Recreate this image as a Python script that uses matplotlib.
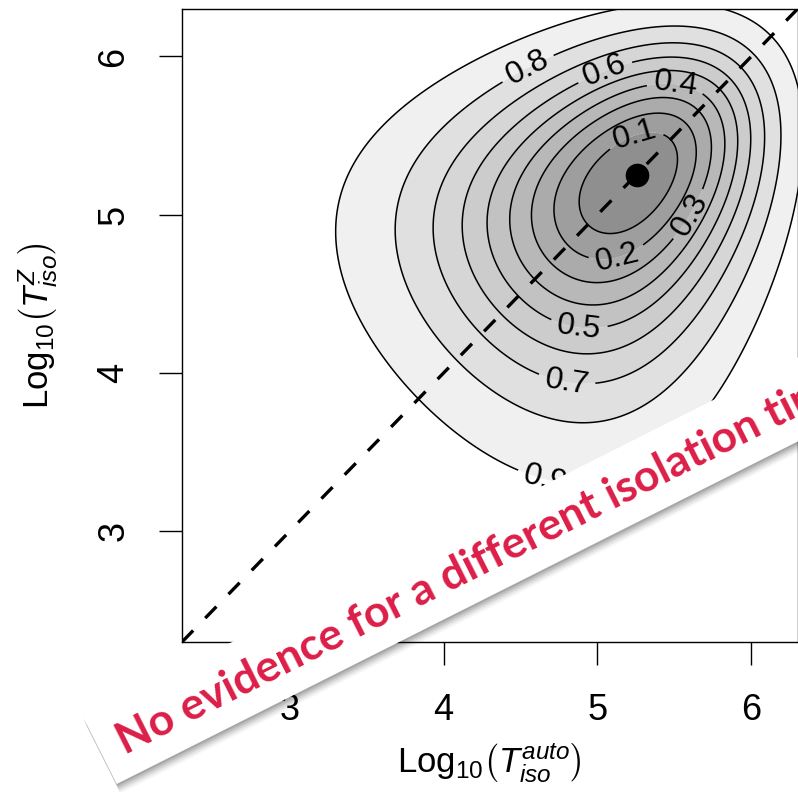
import numpy as np
import matplotlib
matplotlib.use("Agg")
import matplotlib.pyplot as plt
from matplotlib.patches import Polygon

# ---------------------------------------------------------------------------
# Joint posterior of the two isolation times (log10 scale)
# ---------------------------------------------------------------------------
mode_auto = 5.22        # centre of the latent log-gamma margins, log10 T_iso^auto
mode_z = 5.22           # centre of the latent log-gamma margins, log10 T_iso^Z
latent_scale = 0.875    # log10 units per latent unit
tail_weight = 2.0       # concentration of the log-gamma margins
corr_core = 0.45        # dependence near the mode
corr_tail = 0.15        # dependence in the tails
corr_radius = 1.0       # latent radius over which the dependence relaxes

point_auto = 5.26       # marked posterior estimate
point_z = 5.25

hpd_levels = [0.1, 0.2, 0.3, 0.4, 0.5, 0.6, 0.7, 0.8, 0.9]
hpd_labels = ["0.1", "0.2", "0.3", "0.4", "0.5", "0.6", "0.7", "0.8", "0.9"]
band_greys = [0.56, 0.62, 0.67, 0.72, 0.76, 0.80, 0.84, 0.88, 0.94]  # innermost -> outermost

ticks = [3, 4, 5, 6]
tick_labels = ["3", "4", "5", "6"]
axis_lo, axis_hi = 2.3, 6.3

banner_text = "No evidence for a different isolation time"

# where the contour labels sit (near these points on each contour)
label_spots = {
    0.8: (4.54, 5.94), 0.6: (5.03, 5.95), 0.4: (5.51, 5.84),
    0.1: (5.27, 5.43), 0.3: (5.58, 5.01), 0.2: (5.08, 4.91),
    0.5: (4.90, 4.45), 0.7: (4.82, 4.06), 0.9: (4.66, 3.32),
}


def latent_score(t):
    return np.sign(t) * np.sqrt(2.0 * np.maximum(np.expm1(t) - t, 0.0))


def log_density(x, y):
    """Meta-Gaussian surface with log-gamma shaped margins."""
    za = latent_score((x - mode_auto) / latent_scale)
    zb = latent_score((y - mode_z) / latent_scale)
    r2 = za ** 2 + zb ** 2
    rho = corr_tail + (corr_core - corr_tail) * np.exp(-r2 / (2.0 * corr_radius ** 2))
    return -tail_weight * (r2 - 2.0 * rho * za * zb) / 2.0


# highest-posterior-density thresholds from a wide grid
g = np.arange(-14.0, 8.0, 0.02)
GX, GY = np.meshgrid(g, g)
dens_wide = np.exp(log_density(GX, GY))
flat = np.sort(dens_wide.ravel())[::-1]
cum = np.cumsum(flat)
cum /= cum[-1]
thresholds = {p: flat[np.searchsorted(cum, p)] for p in hpd_levels}

# surface over the visible window
xs = np.linspace(axis_lo - 0.05, axis_hi + 0.05, 700)
X, Y = np.meshgrid(xs, xs)
Z = np.exp(log_density(X, Y))

order = sorted(hpd_levels, reverse=True)            # 0.9 ... 0.1 (ascending density)
levels_sorted = [thresholds[p] for p in order]
fill_levels = levels_sorted + [Z.max() * 1.01]
fill_colors = [str(v) for v in band_greys[::-1]]

# ---------------------------------------------------------------------------
plt.rcParams["font.family"] = ["Liberation Sans", "DejaVu Sans"]
plt.rcParams["mathtext.fontset"] = "custom"
plt.rcParams["mathtext.rm"] = "Liberation Sans"
plt.rcParams["mathtext.it"] = "Liberation Sans:italic"

W, H = 798, 792
fig = plt.figure(figsize=(W / 100, H / 100), dpi=100)
fig.patch.set_facecolor("white")

ax = fig.add_axes([182 / W, (H - 642) / H, (797.5 - 182) / W, (642 - 9) / H])
ax.contourf(X, Y, Z, levels=fill_levels, colors=fill_colors, antialiased=True)

# one line set per credible level, each labelled in place
for p in order:
    lev = thresholds[p]
    cs = ax.contour(X, Y, Z, levels=[lev], colors="black", linewidths=1.1)
    ax.clabel(cs, fmt={cs.levels[0]: hpd_labels[hpd_levels.index(p)]},
              fontsize=23, inline=True, inline_spacing=6, manual=[label_spots[p]])

ax.plot([axis_lo, axis_hi], [axis_lo, axis_hi], color="black", lw=2.4,
        linestyle=(0, (4.8, 5.2)), zorder=4)
ax.plot([point_auto], [point_z], "o", color="black", markersize=16, zorder=5)

ax.set_xlim(axis_lo, axis_hi)
ax.set_ylim(axis_lo, axis_hi)
ax.set_xticks(ticks)
ax.set_xticklabels(tick_labels)
ax.set_yticks(ticks)
ax.set_yticklabels(tick_labels, rotation=90, va="center")
ax.tick_params(direction="out", length=16.5, width=1.0, labelsize=26, pad=20)
for sp in ax.spines.values():
    sp.set_linewidth(1.0)

ax.set_xlabel(r"$\mathregular{Log}_{10}\left(T^{auto}_{iso}\right)$", fontsize=25, labelpad=10)
ax.set_ylabel(r"$\mathregular{Log}_{10}\left(T^{Z}_{iso}\right)$", fontsize=25, labelpad=26)

# ---------------------------------------------------------------------------
# diagonal banner across the lower part of the figure (pixel coordinates)
ov = fig.add_axes([0, 0, 1, 1], zorder=10)
ov.set_xlim(0, W)
ov.set_ylim(H, 0)
ov.axis("off")

ang = np.deg2rad(26.7)
d = np.array([np.cos(ang), -np.sin(ang)])
n = np.array([np.sin(ang), np.cos(ang)])
tl = np.array([83.0, 717.0])
depth = 75.0
length = 1100.0
corners = np.array([tl, tl + length * d, tl + length * d + depth * n, tl + depth * n])

for off, alpha in [(10, 0.04), (8, 0.06), (6, 0.08), (4, 0.10), (2, 0.12)]:
    shadow = corners + np.array([off * 0.35, off * 0.95])
    ov.add_patch(Polygon(shadow, closed=True, facecolor="black", alpha=alpha,
                         edgecolor="none"))
ov.add_patch(Polygon(corners, closed=True, facecolor="white", edgecolor="none"))

anchor = tl + 20 * d + 53 * n
ov.text(anchor[0], anchor[1], banner_text, rotation=26.7, rotation_mode="anchor",
        ha="left", va="baseline", color="#DC1E48", fontsize=32,
        fontfamily=["Lato", "DejaVu Sans"], fontweight="bold")

fig.savefig("out.png", dpi=100, facecolor="white")
